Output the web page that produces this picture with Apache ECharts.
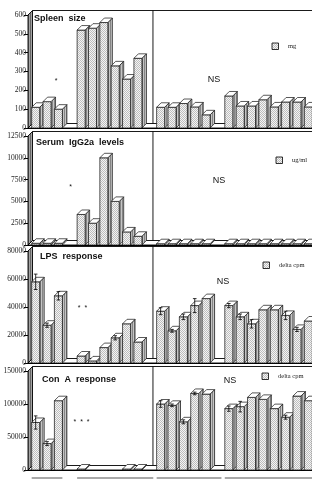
<!DOCTYPE html>
<html>
<head>
<meta charset="utf-8">
<script src="https://cdn.jsdelivr.net/npm/echarts@6/dist/echarts.min.js"></script>
<style>
  html, body { margin: 0; padding: 0; background: #fff; }
  #main { width: 312px; height: 480px; }
</style>
</head>
<body>
<div id="main"></div>
<script>
// x slots: group A (3), gap, group B (6), gap | group C (5), gap, group D (8)
const slots = ['A1', 'A2', 'A3', 'g1', 'B1', 'B2', 'B3', 'B4', 'B5', 'B6', 'g2',
  'C1', 'C2', 'C3', 'C4', 'C5', 'g3', 'D1', 'D2', 'D3', 'D4', 'D5', 'D6', 'D7', 'D8'];

// spleen size (mg)
const spleen = [110, 140, 100, null, 520, 530, 560, 330, 260, 370, null,
  110, 110, 130, 112, 70, null, 170, 117, 117, 150, 112, 138, 138, 112];
// serum IgG2a (ug/ml)
const serum = [200, 200, 200, null, 3500, 2500, 10000, 5000, 1500, 1000, null,
  150, 150, 150, 150, 150, null, 150, 150, 150, 150, 150, 150, 150, 150];
// LPS response (delta cpm) and error bars
const lps = [58000, 27000, 48000, null, 5000, 1500, 11000, 18000, 28000, 15000, null,
  37000, 23000, 33000, 41000, 46000, null, 41000, 33000, 28000, 38000, 38000, 34000, 24000, 30000];
const lpsErr = [5500, 1500, 3000, null, null, null, null, 1500, null, null, null,
  2500, 1000, 2000, 5000, null, null, 1500, 2000, 3000, null, null, 3000, 1500, null];
// Con A response (delta cpm) and error bars
const conA = [72000, 40000, 105000, null, 1500, 0, 0, 0, 1500, 1500, null,
  100000, 98000, 73000, 116000, 115000, null, 93000, 96000, 110000, 107000, 93000, 80000, 112000, 105000];
const conAErr = [10000, 3000, null, null, null, null, null, null, null, null, null,
  5000, 2000, 3000, 2000, null, null, 4000, 8000, null, null, null, 3000, null, null];

const yMax = [600, 12500, 80000, 150000];
const yStep = [100, 2500, 20000, 50000];

// vertical placement of the four panels
const gridTops = [15, 136, 251, 371];
const gridHeights = [113, 109, 112, 99];
const SLOT = 11.75;
const D = 4.5; // depth of the 3d look

function makePattern(w, h, draw) {
  const cv = document.createElement('canvas');
  cv.width = w; cv.height = h;
  draw(cv.getContext('2d'));
  return { type: 'pattern', image: cv, repeat: 'repeat' };
}
const frontPat = makePattern(2, 2, ctx => {
  ctx.fillStyle = '#f4f4f4'; ctx.fillRect(0, 0, 2, 2);
  ctx.fillStyle = '#bdbdbd'; ctx.fillRect(0, 0, 1, 1); ctx.fillRect(1, 1, 1, 1);
});
const sidePat = makePattern(2, 2, ctx => {
  ctx.fillStyle = '#c4c4c4'; ctx.fillRect(0, 0, 2, 2);
  ctx.fillStyle = '#858585'; ctx.fillRect(0, 0, 1, 2);
});
const wallPat = makePattern(2, 2, ctx => {
  ctx.fillStyle = '#a4a4a4'; ctx.fillRect(0, 0, 2, 2);
  ctx.fillStyle = '#666666'; ctx.fillRect(0, 0, 1, 2);
});

const edge = { stroke: '#111', lineWidth: 0.7 };

function bar3d(params, api) {
  const v = api.value(1);
  if (!(v > 0)) return null;
  const i = api.value(0);
  const base = api.coord([i, 0]);
  const tip = api.coord([i, v]);
  const x0 = base[0] - 2, x1 = base[0] + 6;
  const yb = base[1], yt = Math.min(tip[1], yb - 1);
  const kids = [
    { type: 'polygon', shape: { points: [[x1, yb], [x1, yt], [x1 + D, yt - D], [x1 + D, yb - D]] },
      style: Object.assign({ fill: sidePat }, edge) },
    { type: 'rect', shape: { x: x0, y: yt, width: x1 - x0, height: yb - yt },
      style: Object.assign({ fill: frontPat }, edge) },
    { type: 'polygon', shape: { points: [[x0, yt], [x1, yt], [x1 + D, yt - D], [x0 + D, yt - D]] },
      style: Object.assign({ fill: '#fff' }, edge) }
  ];
  const e = api.value(2);
  if (e > 0) {
    const xm = (x0 + x1) / 2;
    const ya = api.coord([i, v + e])[1];
    const yz = api.coord([i, v - e])[1];
    const st = { stroke: '#000', lineWidth: 0.8 };
    kids.push({ type: 'line', shape: { x1: xm, y1: ya, x2: xm, y2: yz }, style: st });
    kids.push({ type: 'line', shape: { x1: xm - 1.8, y1: ya, x2: xm + 1.8, y2: ya }, style: st });
    kids.push({ type: 'line', shape: { x1: xm - 1.8, y1: yz, x2: xm + 1.8, y2: yz }, style: st });
  }
  return { type: 'group', children: kids };
}

const values = [spleen, serum, lps, conA];
const errors = [null, null, lpsErr, conAErr];

const grids = [], xAxes = [], yAxes = [], series = [];
values.forEach((vals, k) => {
  grids.push({ left: 28, top: gridTops[k], width: SLOT * slots.length, height: gridHeights[k] });
  xAxes.push({
    type: 'category', gridIndex: k, data: slots,
    axisLine: { lineStyle: { color: '#000', width: 1 } },
    axisTick: { alignWithLabel: true, length: 3, lineStyle: { color: '#000' } },
    axisLabel: { show: false }
  });
  yAxes.push({
    type: 'value', gridIndex: k, min: 0, max: yMax[k], interval: yStep[k],
    axisLine: { show: true, lineStyle: { color: '#000', width: 1 } },
    axisTick: { show: true, length: 4, lineStyle: { color: '#000' } },
    splitLine: { show: false },
    axisLabel: { fontFamily: 'Liberation Serif', fontSize: 7.5, color: '#222', margin: 2,
      formatter: v => String(v) }
  });
  series.push({
    type: 'custom', xAxisIndex: k, yAxisIndex: k, z: 3, clip: false,
    renderItem: bar3d,
    data: vals.map((v, i) => [i, v, errors[k] ? errors[k][i] : null])
  });
});

const chart = echarts.init(document.getElementById('main'), null, { renderer: 'canvas' });
chart.setOption({
  animation: false,
  backgroundColor: '#fff',
  grid: grids, xAxis: xAxes, yAxis: yAxes, series: series
});

// panel texts (title, significance marks, NS, legend)
const titles = ['Spleen  size', 'Serum  IgG2a  levels', 'LPS  response', 'Con  A  response'];
const marks = ['*', '*', '*  *', '*  *  *'];
const units = ['mg', 'ug/ml', 'delta cpm', 'delta cpm'];
const titlePos = [[34, 18.5], [36, 142.5], [40, 256.5], [42, 379.5]];
const markPos = [[56, 81], [70.5, 187.5], [82.5, 308], [81.5, 422.5]];
const nsPos = [[214, 80], [219, 181], [223, 281.5], [230, 381]];
const legPos = [[272, 43], [276, 157], [263, 262], [262, 373]];

const gfx = [];
values.forEach((vals, k) => {
  const f = { gridIndex: k };
  const p0 = chart.convertToPixel(f, [0, 0]);
  const p1 = chart.convertToPixel(f, [1, 0]);
  const y0 = p0[1];
  const yt = chart.convertToPixel(f, [0, yMax[k]])[1];
  const w = p1[0] - p0[0];
  const xl = p0[0] - w / 2;
  const xr = xl + w * slots.length;
  const xd = xl + w * 11;
  const line = { stroke: '#000', lineWidth: 0.9 };
  gfx.push({ type: 'polygon', z: 1, shape: { points: [[xl, y0], [xr, y0], [xr + D, y0 - D], [xl + D, y0 - D]] },
    style: Object.assign({ fill: '#fff' }, line) });
  gfx.push({ type: 'polygon', z: 1, shape: { points: [[xl, y0], [xl, yt], [xl + D, yt - D], [xl + D, y0 - D]] },
    style: Object.assign({ fill: wallPat }, line) });
  gfx.push({ type: 'line', z: 1, shape: { x1: xl + D, y1: yt - D, x2: xr + D, y2: yt - D }, style: line });
  gfx.push({ type: 'line', z: 1, shape: { x1: xd, y1: yt - D, x2: xd, y2: y0 - D }, style: line });

  gfx.push({ type: 'text', z: 10, style: { x: titlePos[k][0], y: titlePos[k][1], text: titles[k],
    font: 'bold 9px "Liberation Sans"', fill: '#111', align: 'left', verticalAlign: 'middle' } });
  gfx.push({ type: 'text', z: 10, style: { x: markPos[k][0], y: markPos[k][1], text: marks[k],
    font: '7px "Liberation Sans"', fill: '#111', align: 'center', verticalAlign: 'middle' } });
  gfx.push({ type: 'text', z: 10, style: { x: nsPos[k][0], y: nsPos[k][1], text: 'NS',
    font: '9px "Liberation Sans"', fill: '#111', align: 'center', verticalAlign: 'middle' } });
  gfx.push({ type: 'rect', z: 10, shape: { x: legPos[k][0], y: legPos[k][1], width: 6.5, height: 6.5 },
    style: { fill: frontPat, stroke: '#000', lineWidth: 0.8 } });
  gfx.push({ type: 'text', z: 10, style: { x: legPos[k][0] + 16, y: legPos[k][1] + 3.5, text: units[k],
    font: '6.5px "Liberation Serif"', fill: '#222', align: 'left', verticalAlign: 'middle' } });
});

// group underlines below the bottom axis
const groups = [[0, 2], [4, 10], [11, 16], [17, 24]];
groups.forEach(g => {
  const a = chart.convertToPixel({ gridIndex: 3 }, [g[0], 0]);
  const b = chart.convertToPixel({ gridIndex: 3 }, [g[1], 0]);
  gfx.push({ type: 'line', z: 1, shape: { x1: a[0] - 2, y1: a[1] + 8, x2: b[0] + 6, y2: b[1] + 8 },
    style: { stroke: '#8c8c8c', lineWidth: 1.5 } });
});

chart.setOption({ graphic: gfx });
</script>
</body>
</html>
